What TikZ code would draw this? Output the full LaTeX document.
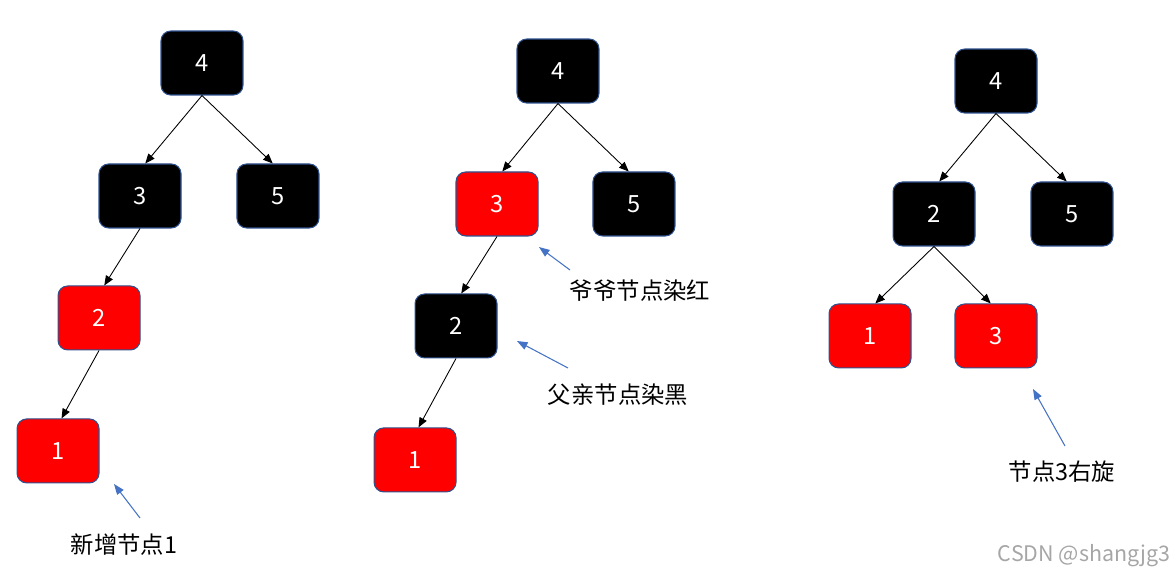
\documentclass[tikz,border=0pt]{standalone}
\usepackage{fontspec}
\setmainfont{Noto Sans CJK SC}
\usetikzlibrary{positioning, arrows.meta}

\definecolor{rbred}{HTML}{FF0000}
\definecolor{rbedge}{HTML}{2F528F}
\definecolor{noteblue}{HTML}{4472C4}

\tikzset{
  rbnode/.style = {draw = rbedge, line width = 0.6pt, rounded corners = 5.5pt,
                   minimum width = 1.64cm, minimum height = 1.28cm,
                   text = white, font = \fontsize{13.5}{15}\selectfont},
  blacknode/.style = {rbnode, fill = black},
  rednode/.style = {rbnode, fill = rbred},
  link/.style = {-{Triangle[length = 5.5pt, width = 4.5pt]}, line width = 0.5pt},
  note/.style = {-{Triangle[length = 6pt, width = 4.5pt]}, noteblue, line width = 0.6pt},
  notetext/.style = {font = \fontsize{13.3}{15}\selectfont}
}

\begin{document}
\begin{tikzpicture}[x = 0.02cm, y = -0.02cm, on grid]
  \useasboundingbox (0,0) rectangle (1174,579);

  % tree 1: insert 1
  \node[blacknode] (A4) at (202,63) {4};
  \node[blacknode] (A3) [below left = 2.66cm and 1.24cm of A4] {3};
  \node[blacknode] (A5) [below right = 2.66cm and 1.52cm of A4] {5};
  \node[rednode] (A2) [below left = 2.44cm and 0.82cm of A3] {2};
  \node[rednode] (A1) [below left = 2.66cm and 0.82cm of A2] {1};
  \draw[link] (A4.south) -- ([xshift = 3pt] A3.north);
  \draw[link] (A4.south) -- ([xshift = -3pt] A5.north);
  \draw[link] (A3.south) -- ([xshift = 3pt] A2.north);
  \draw[link] (A2.south) -- ([xshift = 2pt] A1.north);
  \node[notetext] (T1) at (124,545) {新增节点1};
  \coordinate (P1) at (140,518);
  \coordinate (Q1) at (114,484);
  \draw[note] (P1) -- (Q1);

  % tree 2: recolor
  \node[blacknode] (B4) at (558,71) {4};
  \node[rednode] (B3) [below left = 2.66cm and 1.22cm of B4] {3};
  \node[blacknode] (B5) [below right = 2.66cm and 1.52cm of B4] {5};
  \node[blacknode] (B2) [below left = 2.44cm and 0.82cm of B3] {2};
  \node[rednode] (B1) [below left = 2.68cm and 0.82cm of B2] {1};
  \draw[link] (B4.south) -- ([xshift = 3pt] B3.north);
  \draw[link] (B4.south) -- ([xshift = -3pt] B5.north);
  \draw[link] (B3.south) -- ([xshift = 3pt] B2.north);
  \draw[link] (B2.south) -- ([xshift = 2pt] B1.north);
  \node[notetext] (T2) at (640,291) {爷爷节点染红};
  \coordinate (P2) at (570,270);
  \coordinate (Q2) at (539,247);
  \draw[note] (P2) -- (Q2);
  \node[notetext] (T3) at (618,395) {父亲节点染黑};
  \coordinate (P3) at (568,368);
  \coordinate (Q3) at (517,341);
  \draw[note] (P3) -- (Q3);

  % tree 3: rotate right
  \node[blacknode] (C4) at (996,81) {4};
  \node[blacknode] (C2) [below left = 2.66cm and 1.24cm of C4] {2};
  \node[blacknode] (C5) [below right = 2.66cm and 1.52cm of C4] {5};
  \node[rednode] (C1) [below left = 2.44cm and 1.28cm of C2] {1};
  \node[rednode] (C3) [below right = 2.44cm and 1.24cm of C2] {3};
  \draw[link] (C4.south) -- ([xshift = 3pt] C2.north);
  \draw[link] (C4.south) -- ([xshift = -3pt] C5.north);
  \draw[link] (C2.south) -- ([xshift = 3pt] C1.north);
  \draw[link] (C2.south) -- ([xshift = -3pt] C3.north);
  \node[notetext] (T4) at (1062,472) {节点3右旋};
  \coordinate (P4) at (1065,446);
  \coordinate (Q4) at (1033,389);
  \draw[note] (P4) -- (Q4);

  % watermark
  \node[text = black!35, font = \fontsize{12.2}{14}\selectfont] (W) at (1084,556) {CSDN @shangjg3};
\end{tikzpicture}
\end{document}
